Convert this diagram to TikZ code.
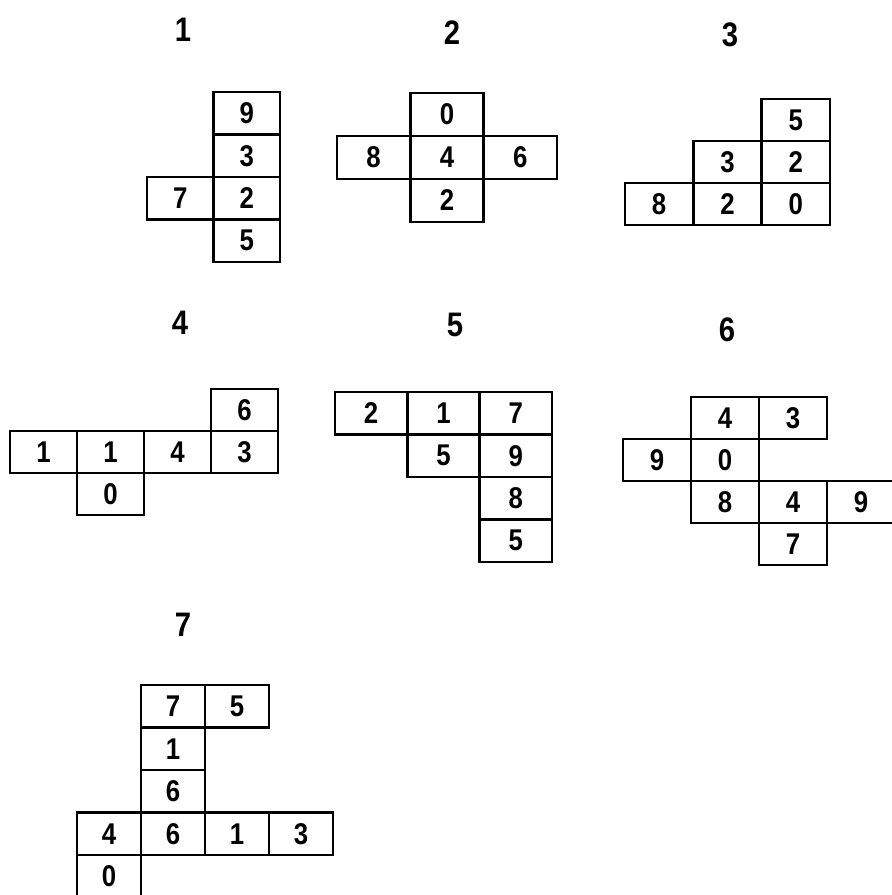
\documentclass[tikz,border=0pt]{standalone}
\usepackage{fontspec}
\setmainfont{Liberation Sans}
\newfontfamily\digitfont[FakeStretch=0.86]{Liberation Sans}
\usetikzlibrary{positioning}

\begin{document}
\begin{tikzpicture}[x=1pt, y=-1pt,
  cell/.style={draw, line width=2.4pt, inner sep=0pt, minimum width=\cw pt, minimum height=\ch pt,
    font=\digitfont\fontsize{30}{30}\selectfont\bfseries},
  numlabel/.style={font=\digitfont\fontsize{34}{34}\selectfont\bfseries}]
\useasboundingbox (0,0) rectangle (892,895);
% net 1
\node[numlabel] (lab1) at (183,30) {1};
\def\cw{66.5}\def\ch{42.5}
\begin{scope}[shift={(147,92)}, x=\cw pt, y=-\ch pt]
\foreach \c/\r/\d in {1/0/9,1/1/3,0/2/7,1/2/2,1/3/5}
  \node[cell] (f1-\c\r) at (\c+0.5,\r+0.5) {\d};
\end{scope}
% net 2
\node[numlabel] (lab2) at (452,33) {2};
\def\cw{73.3}\def\ch{43}
\begin{scope}[shift={(337,93)}, x=\cw pt, y=-\ch pt]
\foreach \c/\r/\d in {1/0/0,0/1/8,1/1/4,2/1/6,1/2/2}
  \node[cell] (f2-\c\r) at (\c+0.5,\r+0.5) {\d};
\end{scope}
% net 3
\node[numlabel] (lab3) at (730,35) {3};
\def\cw{68.3}\def\ch{42}
\begin{scope}[shift={(625,99)}, x=\cw pt, y=-\ch pt]
\foreach \c/\r/\d in {2/0/5,1/1/3,2/1/2,0/2/8,1/2/2,2/2/0}
  \node[cell] (f3-\c\r) at (\c+0.5,\r+0.5) {\d};
\end{scope}
% net 4
\node[numlabel] (lab4) at (180,323) {4};
\def\cw{67}\def\ch{42}
\begin{scope}[shift={(10,389)}, x=\cw pt, y=-\ch pt]
\foreach \c/\r/\d in {3/0/6,0/1/1,1/1/1,2/1/4,3/1/3,1/2/0}
  \node[cell] (f4-\c\r) at (\c+0.5,\r+0.5) {\d};
\end{scope}
% net 5
\node[numlabel] (lab5) at (455,325) {5};
\def\cw{72.3}\def\ch{42.5}
\begin{scope}[shift={(335,392)}, x=\cw pt, y=-\ch pt]
\foreach \c/\r/\d in {0/0/2,1/0/1,2/0/7,1/1/5,2/1/9,2/2/8,2/3/5}
  \node[cell] (f5-\c\r) at (\c+0.5,\r+0.5) {\d};
\end{scope}
% net 6
\node[numlabel] (lab6) at (727,330) {6};
\def\cw{68}\def\ch{42}
\begin{scope}[shift={(623,397)}, x=\cw pt, y=-\ch pt]
\foreach \c/\r/\d in {1/0/4,2/0/3,0/1/9,1/1/0,1/2/8,2/2/4,3/2/9,2/3/7}
  \node[cell] (f6-\c\r) at (\c+0.5,\r+0.5) {\d};
\end{scope}
% net 7
\node[numlabel] (lab7) at (183,625) {7};
\def\cw{64}\def\ch{42.5}
\begin{scope}[shift={(77,685)}, x=\cw pt, y=-\ch pt]
\foreach \c/\r/\d in {1/0/7,2/0/5,1/1/1,1/2/6,0/3/4,1/3/6,2/3/1,3/3/3,0/4/0}
  \node[cell] (f7-\c\r) at (\c+0.5,\r+0.5) {\d};
\end{scope}
\end{tikzpicture}
\end{document}
